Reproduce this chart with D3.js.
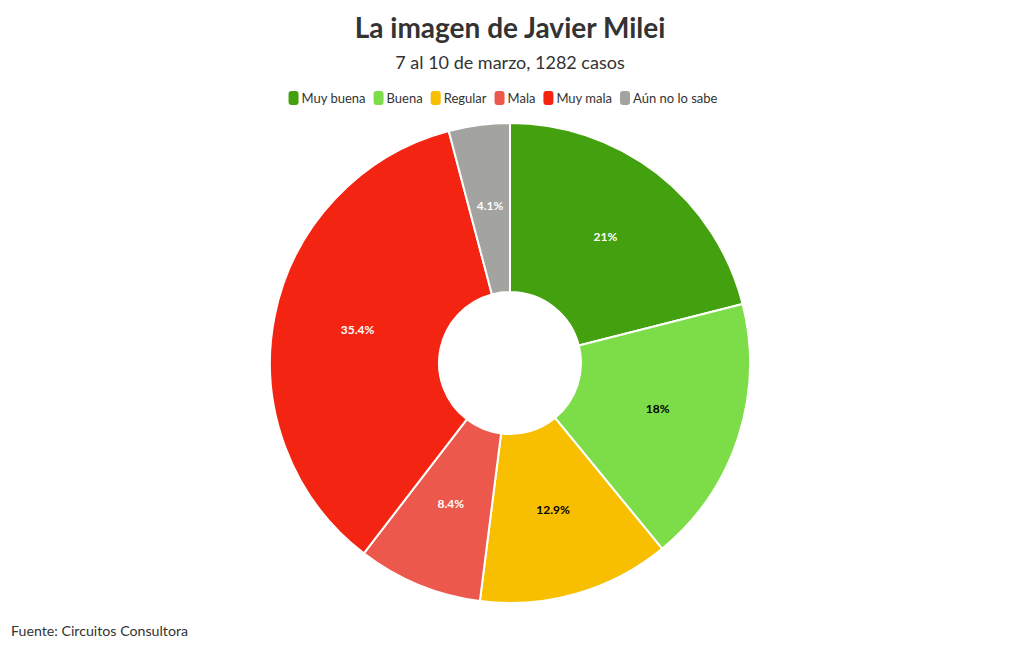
<!DOCTYPE html>
<html>
<head>
<meta charset="utf-8">
<script src="https://cdn.jsdelivr.net/npm/d3@7"></script>
<style>
  body { margin: 0; background: #fff; }
  text { font-family: "Source Sans Pro", Lato, "Noto Sans", sans-serif; }
</style>
</head>
<body>
<div id="chart"></div>
<script>
const categories = ["Muy buena", "Buena", "Regular", "Mala", "Muy mala", "Aún no lo sabe"];
const values = [21, 18, 12.9, 8.4, 35.4, 4.1];
const colors = ["#43a00e", "#7ddd48", "#f7bf00", "#ec584b", "#f42412", "#a3a3a0"];
const labelColors = ["#fff", "#000", "#000", "#fff", "#fff", "#fff"];

const width = 1020, height = 650;
const cx = 510, cy = 363;
const outerR = 240, innerR = 71;

const data = categories.map((c, i) => ({name: c, value: values[i], color: colors[i], tc: labelColors[i]}));

const svg = d3.select("#chart").append("svg")
  .attr("width", width)
  .attr("height", height);

svg.append("text")
  .attr("x", 510).attr("y", 38)
  .attr("text-anchor", "middle")
  .attr("font-size", 28).attr("font-weight", 700)
  .attr("fill", "#333")
  .text("La imagen de Javier Milei");

svg.append("text")
  .attr("x", 510).attr("y", 69)
  .attr("text-anchor", "middle")
  .attr("font-size", 18)
  .attr("fill", "#333")
  .text("7 al 10 de marzo, 1282 casos");

svg.append("text")
  .attr("x", 11).attr("y", 636)
  .attr("font-size", 14.2)
  .attr("fill", "#333")
  .text("Fuente: Circuitos Consultora");

// legend
const legend = svg.append("g");
let lx = 0;
data.forEach(d => {
  const g = legend.append("g").attr("transform", `translate(${lx},0)`);
  g.append("rect")
    .attr("x", 0).attr("y", -7)
    .attr("width", 10).attr("height", 14)
    .attr("rx", 3)
    .attr("fill", d.color);
  const t = g.append("text")
    .attr("x", 13).attr("y", 5)
    .attr("font-size", 13)
    .attr("fill", "#333")
    .text(d.name);
  lx += 13 + t.node().getComputedTextLength() + 8;
});
lx -= 8;
legend.attr("transform", `translate(${503 - lx / 2},98)`);

// pie
const pie = d3.pie().value(d => d.value).sort(null);
const arc = d3.arc().innerRadius(innerR).outerRadius(outerR);
const labelArc = d3.arc().innerRadius((innerR + outerR) / 2).outerRadius((innerR + outerR) / 2);

const g = svg.append("g").attr("transform", `translate(${cx},${cy})`);
const arcs = pie(data);

g.selectAll("path")
  .data(arcs)
  .join("path")
    .attr("d", arc)
    .attr("fill", d => d.data.color)
    .attr("stroke", "#fff")
    .attr("stroke-width", 2);

g.selectAll("text")
  .data(arcs)
  .join("text")
    .attr("transform", d => `translate(${labelArc.centroid(d)})`)
    .attr("text-anchor", "middle")
    .attr("dy", "0.1em")
    .attr("font-size", 12)
    .attr("font-weight", 700)
    .attr("fill", d => d.data.tc)
    .text(d => d.data.value + "%");
</script>
</body>
</html>
